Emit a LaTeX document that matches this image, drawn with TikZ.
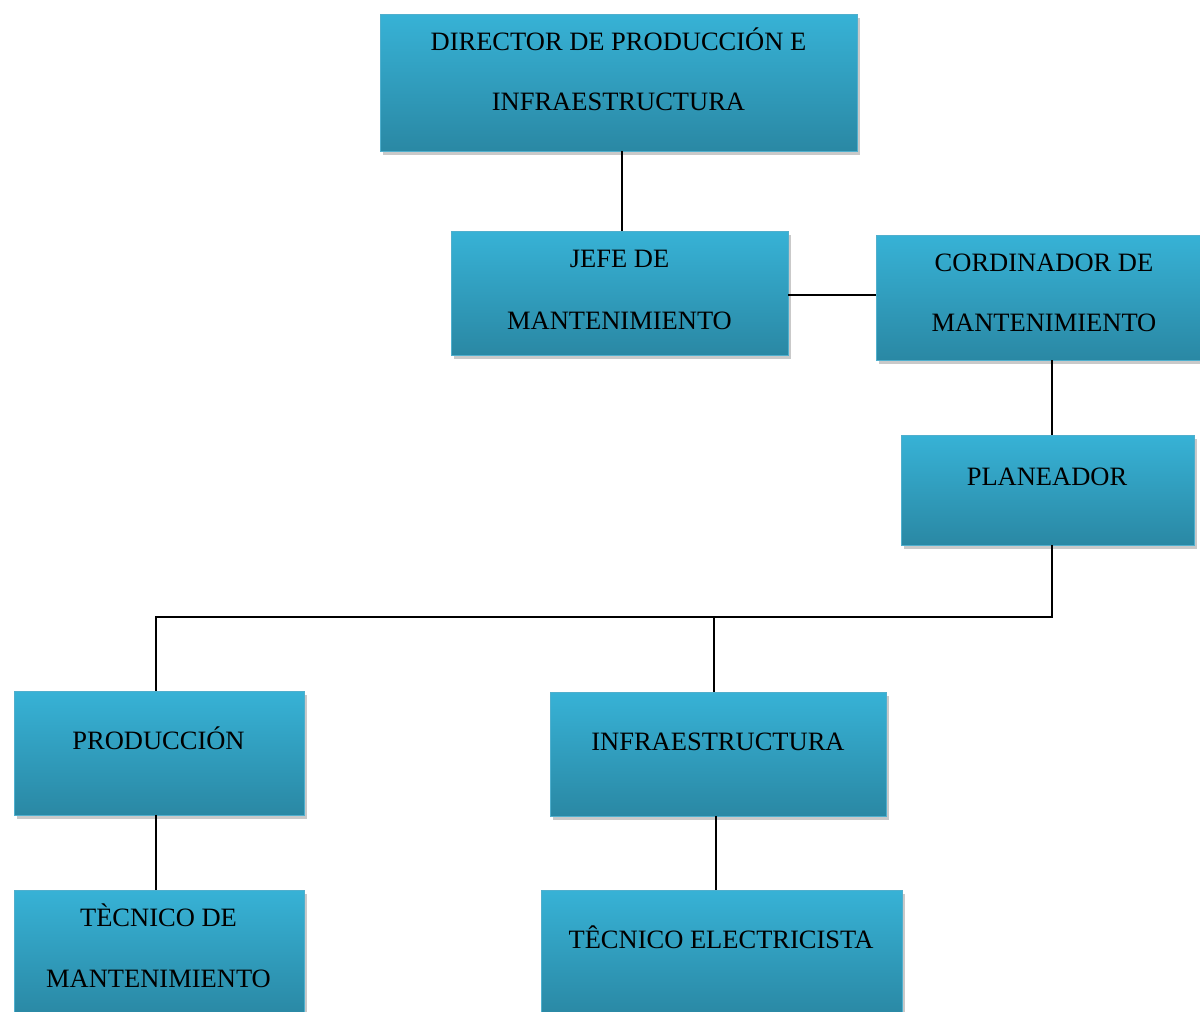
\documentclass[tikz,border=0pt]{standalone}
\usepackage{fontspec}
\setmainfont{Liberation Serif}
\usetikzlibrary{shadows,calc}
\definecolor{boxtop}{RGB}{55,178,214}
\definecolor{boxbot}{RGB}{42,136,164}
\definecolor{boxedge}{RGB}{80,175,205}
\begin{document}
\begin{tikzpicture}[x=1pt,y=1pt,
  orgbox/.style={rectangle, draw=boxedge, line width=0.8pt, top color=boxtop, bottom color=boxbot,
    drop shadow={shadow xshift=3pt, shadow yshift=-4pt, opacity=0.35, fill=black!60}, inner sep=0pt},
  lbl/.style={anchor=base, font=\fontsize{26.5}{30}\selectfont, inner sep=0pt},
  conn/.style={line width=1.8pt, black}]
\clip (0,0) rectangle (1200,-1012);
\fill[white] (0,0) rectangle (1200,-1012);
% boxes (pixel coordinates, y down)
\node[orgbox, minimum width=477pt, minimum height=137pt] (d) at (618.5,-82.5) {};
\node[orgbox, minimum width=337pt, minimum height=124pt] (j) at (619.5,-293) {};
\node[orgbox, minimum width=350pt, minimum height=125pt] (c) at (1051,-297.5) {};
\node[orgbox, minimum width=293pt, minimum height=110pt] (pl) at (1047.5,-490) {};
\node[orgbox, minimum width=290pt, minimum height=124pt] (p) at (159,-753) {};
\node[orgbox, minimum width=336pt, minimum height=124pt] (i) at (718,-754) {};
\node[orgbox, minimum width=290pt, minimum height=126pt] (tm) at (159,-953) {};
\node[orgbox, minimum width=361pt, minimum height=126pt] (te) at (721.5,-953) {};
% texts
\node[lbl] (d1) at (618.5,-50) {DIRECTOR DE PRODUCCIÓN E};
\node[lbl] (d2) at (618.5,-110) {INFRAESTRUCTURA};
\node[lbl] (j1) at (619.5,-267) {JEFE DE};
\node[lbl] (j2) at (619.5,-329) {MANTENIMIENTO};
\node[lbl] (c1) at (1044,-271) {CORDINADOR DE};
\node[lbl] (c2) at (1044,-331) {MANTENIMIENTO};
\node[lbl] (pl1) at (1047,-485) {PLANEADOR};
\node[lbl] (p1) at (158.5,-749) {PRODUCCIÓN};
\node[lbl] (i1) at (718,-750) {INFRAESTRUCTURA};
\node[lbl] (tm1) at (158.5,-926) {TÈCNICO DE};
\node[lbl] (tm2) at (158.5,-987) {MANTENIMIENTO};
\node[lbl] (te1) at (721,-948) {TÊCNICO ELECTRICISTA};
% connectors
\coordinate (busR) at (1052,-617);
\coordinate (busM) at (714,-617);
\coordinate (busL) at (156,-617);
\draw[conn] ([xshift=3.5pt]d.south) -- ([xshift=3.5pt]d.south |- j.north);
\draw[conn] ([yshift=-2pt]j.east) -- ([yshift=-2pt]j.east -| c.west);
\draw[conn] ([xshift=4.5pt]pl.north |- c.south) -- ([xshift=4.5pt]pl.north);
\draw[conn] ([xshift=4.5pt]pl.south) -- (busR) -- (busL) -- (busL |- p.north);
\draw[conn] (busM) -- (busM |- i.north);
\draw[conn] ([xshift=-3pt]p.south) -- ([xshift=-3pt]p.south |- tm.north);
\draw[conn] ([xshift=-2pt]i.south) -- ([xshift=-2pt]i.south |- te.north);
\end{tikzpicture}
\end{document}
